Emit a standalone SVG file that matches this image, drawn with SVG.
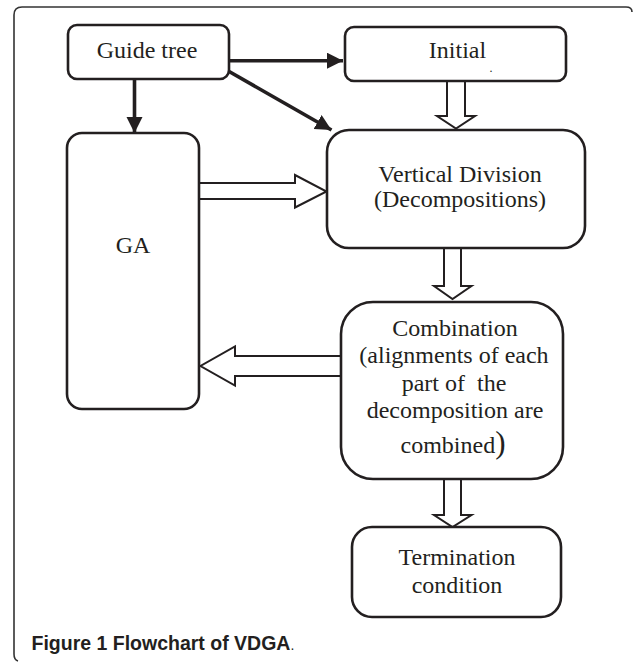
<svg xmlns="http://www.w3.org/2000/svg" width="633" height="662" viewBox="0 0 633 662">
<style>
.box{fill:#fff;stroke:#231f20;stroke-width:2.6}
.t{font-family:"Liberation Serif","Times New Roman",serif;font-size:24px;fill:#231f20;text-anchor:middle}
.solid{stroke:#231f20;stroke-width:3.6;fill:none}
.hollow{fill:#fff;stroke:#231f20;stroke-width:2;stroke-linejoin:miter}
.cap{font-family:"Liberation Sans",Arial,sans-serif;font-size:19.5px;font-weight:bold;fill:#231f20}
</style>
<defs>
<marker id="ah" markerUnits="userSpaceOnUse" markerWidth="17" markerHeight="17" refX="16" refY="8" orient="auto" viewBox="0 0 17 17">
<path d="M0,0 L16,8 L0,16 z" fill="#231f20"/>
</marker>
</defs>
<rect width="633" height="662" fill="#fff"/>
<path d="M632 12 Q632 7 626 7 L22 7 Q14 7 14 15 L14 654 Q14 660 18 661" fill="none" stroke="#333" stroke-width="1.6"/>
<g id="connectors">
<line class="solid" x1="229" y1="60.7" x2="343" y2="60.7" marker-end="url(#ah)"/>
<line class="solid" x1="134.5" y1="79" x2="134.5" y2="133" marker-end="url(#ah)"/>
<line class="solid" x1="223" y1="68" x2="331.5" y2="130" marker-end="url(#ah)"/>
<polygon class="hollow" points="447,81 465,81 465,116 475,116 456,128.5 437,116 447,116"/>
<polygon class="hollow" points="199,183 295,183 295,175 326.5,191.5 295,207.5 295,199 199,199"/>
<polygon class="hollow" points="444,248 461,248 461,286 471.5,286 452.5,299 434,286 444,286"/>
<polygon class="hollow" points="341,356 235,356 235,346.5 200.5,366 235,385.5 235,376 341,376"/>
<polygon class="hollow" points="444,479 461,479 461,515 471.5,515 452.5,527 434,515 444,515"/>
</g>
<g id="guide-tree">
<rect class="box" x="68" y="25" width="161" height="54" rx="9"/>
<text class="t" x="147" y="58">Guide tree</text>
</g>
<g id="initial">
<rect class="box" x="345" y="27" width="221" height="54" rx="9"/>
<text class="t" x="457.5" y="58">Initial</text>
<text class="t" x="491" y="72" style="font-size:12px">.</text>
</g>
<g id="vertical-division">
<rect class="box" x="327" y="130" width="258" height="118" rx="22"/>
<text class="t" x="460" y="182">Vertical Division</text>
<text class="t" x="460" y="207">(Decompositions)</text>
</g>
<g id="ga">
<rect class="box" x="67" y="133" width="132" height="276" rx="15"/>
<text class="t" x="133" y="253">GA</text>
</g>
<g id="combination">
<rect class="box" x="341" y="302" width="222" height="177" rx="32"/>
<text class="t" x="455" y="336">Combination</text>
<text class="t" x="454" y="363">(alignments of each</text>
<text class="t" x="454" y="391" style="white-space:pre">part of  the</text>
<text class="t" x="455" y="418">decomposition are</text>
<text class="t" x="453" y="453">combined<tspan style="font-size:31px">)</tspan></text>
</g>
<g id="termination">
<rect class="box" x="352" y="527" width="209" height="90" rx="20"/>
<text class="t" x="457" y="565">Termination</text>
<text class="t" x="457" y="593">condition</text>
</g>
<text class="cap" x="31.5" y="650">Figure 1 Flowchart of VDGA<tspan style="font-weight:normal;font-size:14px">.</tspan></text>
</svg>
